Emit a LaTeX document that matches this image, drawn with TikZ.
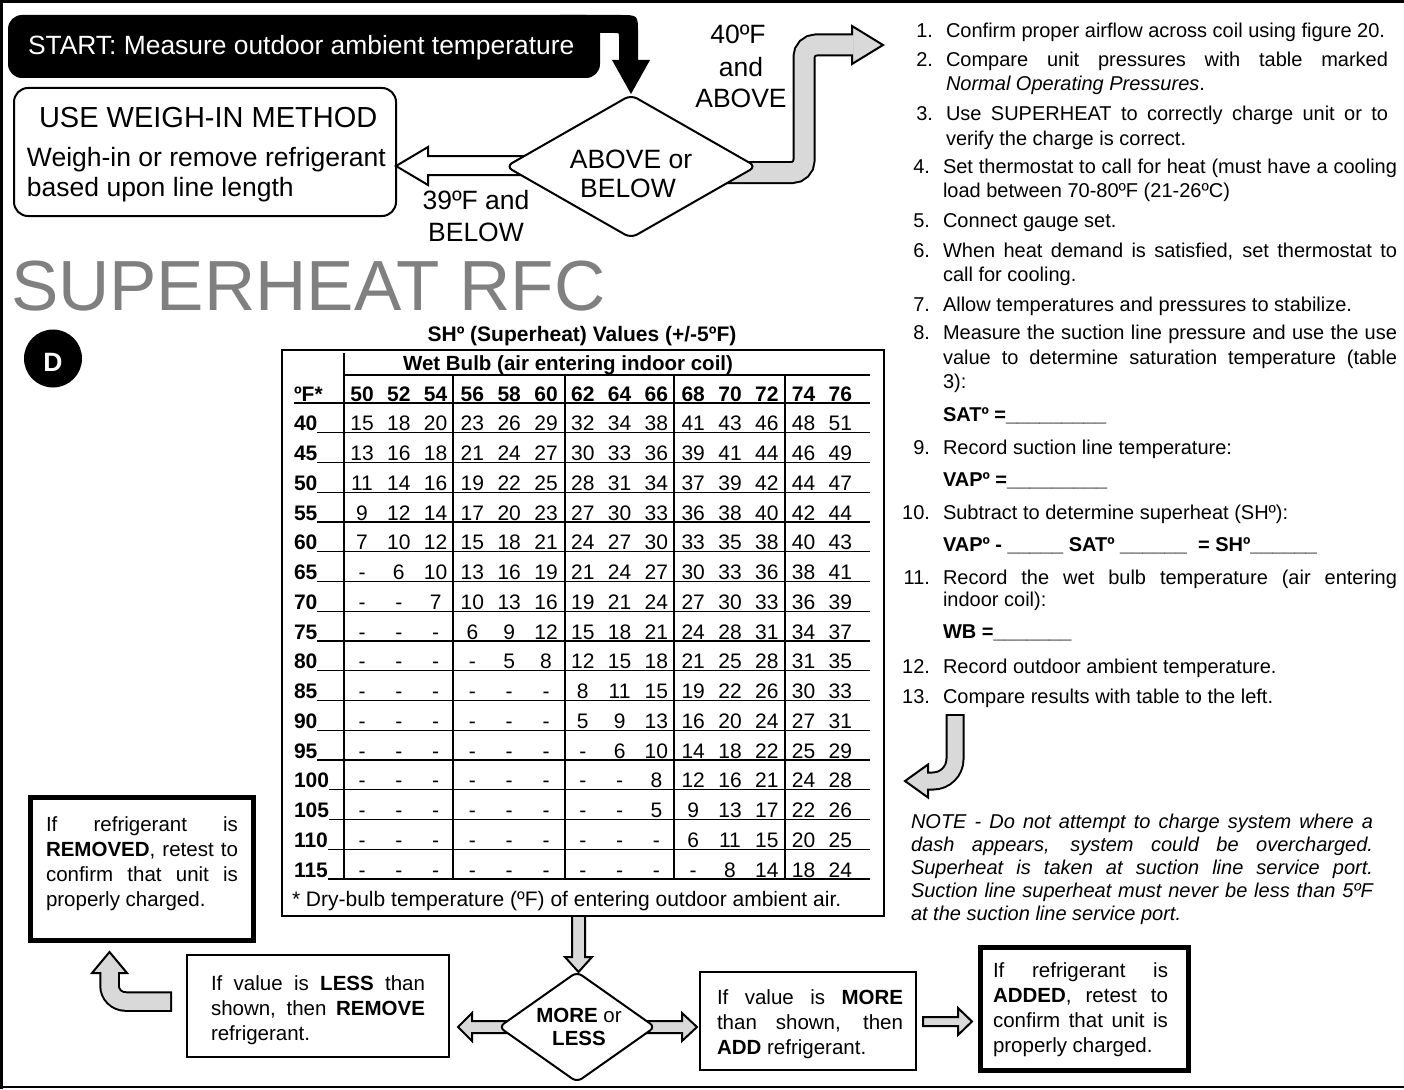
\documentclass[tikz,border=0pt]{standalone}
\usepackage{fontspec}
\setmainfont{Liberation Sans}
\usetikzlibrary{shapes.geometric}
\definecolor{ag}{HTML}{D9D9D9}
\definecolor{tg}{HTML}{808080}
\newcommand\fsz[2]{\fontsize{#1pt}{#2pt}\selectfont}
\newcommand\jb[2]{\makebox[#1pt][s]{#2}}
\begin{document}
\begin{tikzpicture}[x=1pt,y=-1pt,
  every node/.style={inner sep=0pt,outer sep=0pt},
  lt/.style={anchor=base west,font=\fsz{20}{24}},
  ln/.style={anchor=base east,font=\fsz{20}{24}},
  lb/.style={anchor=base west,font=\bfseries\fsz{20}{24}},
  nt/.style={anchor=base west,font=\itshape\fsz{20}{24}},
  bt/.style={anchor=base west,font=\fsz{20.5}{24}},
  ft/.style={anchor=base,font=\fsz{26.5}{30}},
  cell/.style={anchor=base,font=\fsz{21}{25}},
  hcell/.style={anchor=base,font=\bfseries\fsz{21}{25}},
  thinbox/.style={draw,line width=2pt,fill=white},
  thickbox/.style={draw,line width=5pt,fill=white},
  gfill/.style={fill=ag,draw=black,line width=2pt},
  wfill/.style={fill=white,draw=black,line width=2pt},
  dia/.style={diamond,draw,line width=2pt,fill=white,rounded corners=7pt}
]
\useasboundingbox (0,0) rectangle (1404,1089);
% frame
\draw[line width=3pt] (0,1.5) -- (1404,1.5);
\draw[line width=3pt] (1.5,0) -- (1.5,1089);
\draw[line width=2.5pt] (0,1087) -- (1404,1087);

% START box and black arrow
\node[fill=black,rounded corners=14pt,minimum width=592pt,minimum height=63pt] (startbox) at (304,46.5) {};
\fill[black] (560,15) -- (620,15) .. controls (638,15) .. (638,33) -- (638,60) -- (650,60) -- (631,94) -- (612,60) -- (619,60) -- (619,37) .. controls (619,33) .. (615,33) -- (560,33) -- cycle;
\node[anchor=base west,text=white,font=\fsz{26.4}{30}] (start) at (28,55) {START: Measure outdoor ambient temperature};

% weigh-in box
\node[thinbox,rounded corners=14pt,minimum width=382pt,minimum height=128pt] (weigh) at (205,152) {};
\node[anchor=base west,font=\fsz{29}{32}] (weighT) at (39,128) {USE WEIGH-IN METHOD};
\node[anchor=base west,font=\fsz{26.5}{30}] (weigh1) at (27,166) {Weigh-in or remove refrigerant};
\node[anchor=base west,font=\fsz{26.5}{30}] (weigh2) at (27,196) {based upon line length};

% white arrow to weigh-in
\filldraw[wfill] (540,156) -- (428,156) -- (428,147) -- (396,166) -- (428,185) -- (428,175) -- (540,175) -- cycle;

% gray bent arrow 40F and above
\draw[line width=23pt,rounded corners=12pt] (700,172.5) -- (804,172.5) -- (804,45) -- (852,45);
\filldraw[gfill] (852,26) -- (883,45) -- (852,64) -- cycle;
\draw[line width=19pt,ag,rounded corners=12pt] (700,172.5) -- (804,172.5) -- (804,45) -- (853.5,45);

% diamond above/below
\node[dia,minimum width=250pt,minimum height=143pt] (d1) at (631,166.5) {};
\node[ft] (d1a) at (631,168) {ABOVE or};
\node[ft] (d1b) at (628,197) {BELOW};
\node[ft] (lo1) at (476,209) {39ºF and};
\node[ft] (lo2) at (476,241) {BELOW};
\node[ft] (hi1) at (738,44) {40ºF};
\node[ft] (hi2) at (741,77) {and};
\node[ft] (hi3) at (741,108) {ABOVE};

% title
\node[anchor=base west,text=tg,font=\fsz{71}{80}] (sh) at (11,310) {SUPERHEAT RFC};
\node[circle,fill=black,minimum size=58pt] (Dc) at (53,358.5) {};
\node[anchor=base,text=white,font=\bfseries\fsz{26.5}{30}] (Dt) at (53,371) {D};

% table
\node[anchor=base,font=\bfseries\fsz{21}{25}] (ttl) at (582,341) {SHº (Superheat) Values (+/-5ºF)};
\node[thinbox,minimum width=602pt,minimum height=566pt] (tbl) at (583,633) {};
\node[anchor=base,font=\bfseries\fsz{20.5}{25}] (wetb) at (568,370) {Wet Bulb (air entering indoor coil)};
\draw[line width=2pt] (344,375) -- (870,375);
\node[anchor=base west,font=\bfseries\fsz{21}{25}] (hF) at (294,401) {ºF*};
\draw[line width=1.3pt] (294,403) -- (870,403);
\foreach \h [count=\c] in {50,52,54,56,58,60,62,64,66,68,70,72,74,76}
  \node[hcell] (h\c) at ({362+36.8*(\c-1)},401) {\h};
\foreach \lab/\vals [count=\r] in {
  40/{15,18,20,23,26,29,32,34,38,41,43,46,48,51},
  45/{13,16,18,21,24,27,30,33,36,39,41,44,46,49},
  50/{11,14,16,19,22,25,28,31,34,37,39,42,44,47},
  55/{9,12,14,17,20,23,27,30,33,36,38,40,42,44},
  60/{7,10,12,15,18,21,24,27,30,33,35,38,40,43},
  65/{-,6,10,13,16,19,21,24,27,30,33,36,38,41},
  70/{-,-,7,10,13,16,19,21,24,27,30,33,36,39},
  75/{-,-,-,6,9,12,15,18,21,24,28,31,34,37},
  80/{-,-,-,-,5,8,12,15,18,21,25,28,31,35},
  85/{-,-,-,-,-,-,8,11,15,19,22,26,30,33},
  90/{-,-,-,-,-,-,5,9,13,16,20,24,27,31},
  95/{-,-,-,-,-,-,-,6,10,14,18,22,25,29},
  100/{-,-,-,-,-,-,-,-,8,12,16,21,24,28},
  105/{-,-,-,-,-,-,-,-,5,9,13,17,22,26},
  110/{-,-,-,-,-,-,-,-,-,6,11,15,20,25},
  115/{-,-,-,-,-,-,-,-,-,-,8,14,18,24}} {
  \pgfmathsetmacro\yb{403+29.75*\r-2}
  \node[anchor=base west,font=\bfseries\fsz{21}{25}] (lab\r) at (294,\yb) {\lab};
  \draw[line width=1.3pt] (lab\r.base east) ++(0,2) -- (870,\yb+2);
  \foreach \v [count=\c] in \vals
    \node[cell] (c\r-\c) at ({362+36.8*(\c-1)},\yb) {\v};
}
\draw[line width=2pt] (344,353) -- (344,880);
\foreach \xs in {453,565,674,785}
  \draw[line width=2pt] (\xs,375) -- (\xs,880);
\node[anchor=base west,font=\fsz{21}{25}] (foot) at (292,906) {* Dry-bulb temperature (ºF) of entering outdoor ambient air.};

% right list
\node[ln] (n1) at (933,38) {1.};
\node[lt] (t1) at (946,38) {Confirm proper airflow across coil using figure 20.};
\node[ln] (n2) at (933,67) {2.};
\node[lt] (t2a) at (946,67) {\jb{442}{Compare unit pressures with table marked}};
\node[lt] (t2b) at (946,91) {\textit{Normal Operating Pressures}.};
\node[ln] (n3) at (933,121) {3.};
\node[lt] (t3a) at (946,121) {\jb{442}{Use SUPERHEAT to correctly charge unit or to}};
\node[lt] (t3b) at (946,145) {verify the charge is correct.};
\node[ln] (n4) at (930,173) {4.};
\node[lt] (t4a) at (943,173) {\jb{454}{Set thermostat to call for heat (must have a cooling}};
\node[lt] (t4b) at (943,197) {load between 70-80ºF (21-26ºC)};
\node[ln] (n5) at (930,227) {5.};
\node[lt] (t5) at (943,227) {Connect gauge set.};
\node[ln] (n6) at (930,257) {6.};
\node[lt] (t6a) at (943,257) {\jb{454}{When heat demand is satisfied, set thermostat to}};
\node[lt] (t6b) at (943,281) {call for cooling.};
\node[ln] (n7) at (930,311) {7.};
\node[lt] (t7) at (943,311) {Allow temperatures and pressures to stabilize.};
\node[ln] (n8) at (930,339) {8.};
\node[lt] (t8a) at (943,339) {\jb{454}{Measure the suction line pressure and use the use}};
\node[lt] (t8b) at (943,364) {\jb{454}{value to determine saturation temperature (table}};
\node[lt] (t8c) at (943,388) {3):};
\node[lb] (sat) at (943,421) {SATº =\_\_\_\_\_\_\_\_\_};
\node[ln] (n9) at (930,454) {9.};
\node[lt] (t9) at (943,454) {Record suction line temperature:};
\node[lb] (vap) at (943,486) {VAPº =\_\_\_\_\_\_\_\_\_};
\node[ln] (n10) at (930,519) {10.};
\node[lt] (t10) at (943,519) {Subtract to determine superheat (SHº):};
\node[lb] (eq) at (943,551) {VAPº - \_\_\_\_\_ SATº \_\_\_\_\_\_ \ = SHº\_\_\_\_\_\_};
\node[ln] (n11) at (930,584) {11.};
\node[lt] (t11a) at (943,584) {\jb{454}{Record the wet bulb temperature (air entering}};
\node[lt] (t11b) at (943,606) {indoor coil):};
\node[lb] (wbv) at (943,638) {WB =\_\_\_\_\_\_\_};
\node[ln] (n12) at (930,673) {12.};
\node[lt] (t12) at (943,673) {Record outdoor ambient temperature.};
\node[ln] (n13) at (930,703) {13.};
\node[lt] (t13) at (943,703) {Compare results with table to the left.};

% curved arrow under list
\draw[line width=19pt,rounded corners=22pt] (955,714) -- (955,781) -- (928,781);
\filldraw[gfill] (928,764.5) -- (905,781) -- (928,797.5) -- cycle;
\draw[line width=15pt,ag,rounded corners=22pt] (955,716) -- (955,781) -- (926.5,781);

% note
\node[nt] (note1) at (911,828) {\jb{462}{NOTE - Do not attempt to charge system where a}};
\node[nt] (note2) at (911,851) {\jb{462}{dash appears, system could be overcharged.}};
\node[nt] (note3) at (911,874) {\jb{462}{Superheat is taken at suction line service port.}};
\node[nt] (note4) at (911,897) {\jb{462}{Suction line superheat must never be less than 5ºF}};
\node[nt] (note5) at (911,920) {at the suction line service port.};

% bottom arrows
\filldraw[gfill] (572,917) -- (572,957) -- (565,957) -- (578.5,972) -- (592,957) -- (585,957) -- (585,917);
\filldraw[gfill] (510,1021) -- (472,1021) -- (472,1013) -- (458,1027) -- (472,1041) -- (472,1033) -- (510,1033);
\filldraw[gfill] (645,1021) -- (682,1021) -- (682,1013) -- (697,1027) -- (682,1041) -- (682,1033) -- (645,1033);
\node[dia,minimum width=156pt,minimum height=110pt,rounded corners=6pt] (d2) at (577,1027) {};
\node[anchor=base,font=\fsz{20.5}{24}] (d2a) at (579,1022) {\textbf{MORE} or};
\node[anchor=base,font=\bfseries\fsz{20.5}{24}] (d2b) at (579,1045) {LESS};

\filldraw[gfill] (923,1017) -- (958,1017) -- (958,1008) -- (972,1021.5) -- (958,1035) -- (958,1026) -- (923,1026) -- cycle;

\draw[line width=20.5pt,rounded corners=16pt] (172,1001.5) -- (109.5,1001.5) -- (109.5,973);
\filldraw[gfill] (92,973) -- (109.5,952) -- (127,973) -- cycle;
\draw[line width=16.5pt,ag,rounded corners=16pt] (170,1001.5) -- (109.5,1001.5) -- (109.5,971.5);

% bottom boxes
\node[thickbox,minimum width=223pt,minimum height=143pt] (remb) at (141.5,868.5) {};
\node[bt] (r1) at (46,831) {\jb{192}{If refrigerant is}};
\node[bt] (r2) at (46,856) {\jb{192}{\textbf{REMOVED}, retest to}};
\node[bt] (r3) at (46,881) {\jb{192}{confirm that unit is}};
\node[bt] (r4) at (46,906) {properly charged.};

\node[thinbox,minimum width=262pt,minimum height=102pt] (lessb) at (318,1006) {};
\node[bt] (s1) at (211,990) {\jb{214}{If value is \textbf{LESS} than}};
\node[bt] (s2) at (211,1015) {\jb{214}{shown, then \textbf{REMOVE}}};
\node[bt] (s3) at (211,1040) {refrigerant.};

\node[thinbox,minimum width=216pt,minimum height=98pt] (moreb) at (808,1021) {};
\node[bt] (m1) at (717,1004) {\jb{186}{If value is \textbf{MORE}}};
\node[bt] (m2) at (717,1029) {\jb{186}{than shown, then}};
\node[bt] (m3) at (717,1054) {\textbf{ADD} refrigerant.};

\node[thickbox,minimum width=208pt,minimum height=123pt] (addb) at (1084,1008.5) {};
\node[bt] (a1) at (993,977) {\jb{175}{If refrigerant is}};
\node[bt] (a2) at (993,1002) {\jb{175}{\textbf{ADDED}, retest to}};
\node[bt] (a3) at (993,1027) {\jb{175}{confirm that unit is}};
\node[bt] (a4) at (993,1052) {properly charged.};
\end{tikzpicture}
\end{document}
